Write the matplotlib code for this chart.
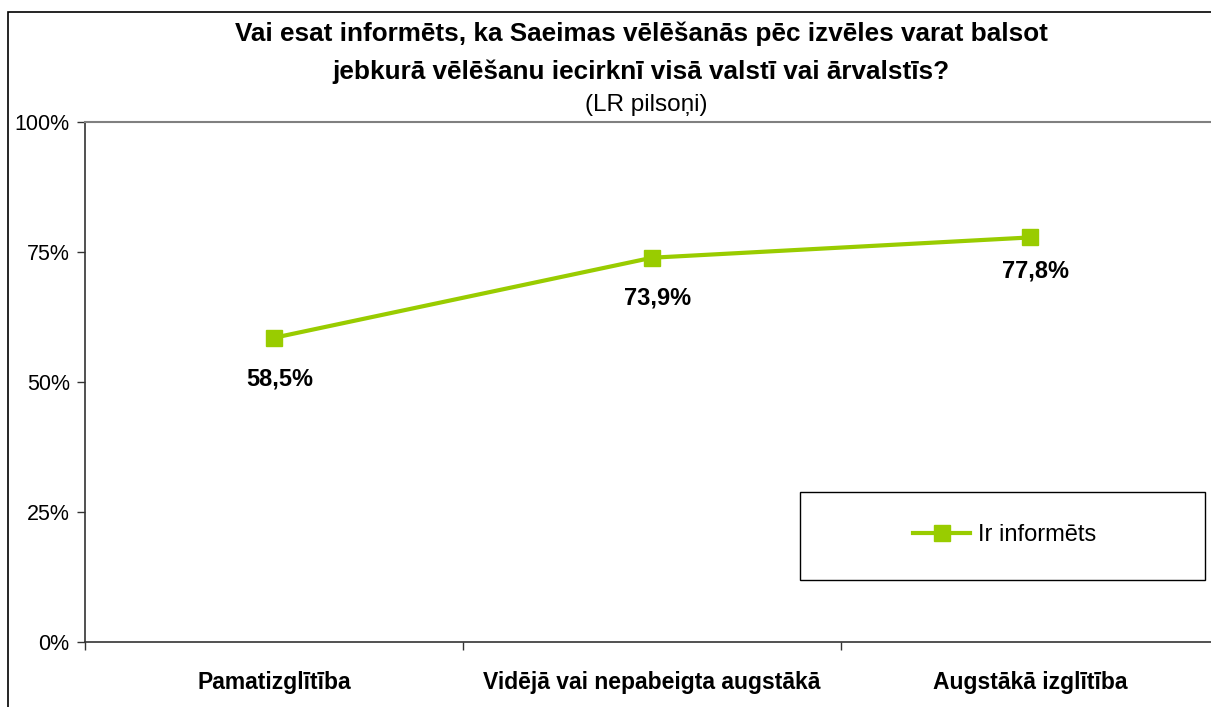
import matplotlib.pyplot as plt
from matplotlib.patches import Rectangle
from matplotlib.ticker import FixedLocator, NullFormatter

plt.rcParams['font.family'] = ['Liberation Sans', 'DejaVu Sans']

categories = ["Pamatizglītība", "Vidējā vai nepabeigta augstākā", "Augstākā izglītība"]
values = [58.5, 73.9, 77.8]
labels = ["58,5%", "73,9%", "77,8%"]
series_name = "Ir informēts"
yticks = [0, 25, 50, 75, 100]

W, H = 1211, 707
fig = plt.figure(figsize=(W / 100, H / 100), dpi=100)

# plot area in pixels: left 85, top 122, bottom 642, right 1219 (past the edge)
ax = fig.add_axes([85 / W, (H - 642) / H, (1219 - 85) / W, (642 - 122) / H])

x = range(len(categories))
ax.plot(x, values, color="#99CC00", lw=3, marker="s", ms=11.5, mec="#99CC00",
        mfc="#99CC00", label=series_name, clip_on=False, zorder=3)

# label offsets below the points (points)
dy = [-34, -34, -28.5]
for xi, v, t, d in zip(x, values, labels, dy):
    ax.annotate(t, (xi, v), xytext=(4, d), textcoords="offset points",
                ha="center", va="baseline", fontsize=17, fontweight="bold")

ax.set_xlim(-0.5, 2.5)
ax.set_ylim(0, 100)
ax.set_yticks(yticks)
ax.set_yticklabels([f"{t}%" for t in yticks], fontsize=15.5)

ax.xaxis.set_major_locator(FixedLocator([-0.5, 0.5, 1.5, 2.5]))
ax.xaxis.set_major_formatter(NullFormatter())
ax.xaxis.set_minor_locator(FixedLocator(list(x)))
ax.set_xticklabels(categories, minor=True, fontsize=16.5, fontweight="bold")
ax.tick_params(axis="x", which="major", length=6, width=1, color="#333333", direction="out")
ax.tick_params(axis="x", which="minor", length=0, pad=21)
ax.tick_params(axis="y", length=6, width=1, color="#333333", pad=5)

ax.spines["right"].set_visible(False)
ax.spines["top"].set_color("#808080")
ax.spines["top"].set_linewidth(1.5)
for s in ("left", "bottom"):
    ax.spines[s].set_color("#333333")
    ax.spines[s].set_linewidth(1.2)

# legend box with centered content
fig.patches.append(Rectangle((800 / W, (H - 580) / H), (1205 - 800) / W, (580 - 492) / H,
                             transform=fig.transFigure, fill=False, edgecolor="black", lw=1))
leg = ax.legend(loc="center", bbox_to_anchor=(1005 / W, (H - 535) / H),
                bbox_transform=fig.transFigure, fontsize=17, frameon=False,
                handlelength=2.4, handletextpad=0.35, borderpad=0)

fig.text(641 / W, 1 - 34 / H, "Vai esat informēts, ka Saeimas vēlēšanās pēc izvēles varat balsot",
         ha="center", va="center", fontsize=18.8, fontweight="bold")
fig.text(641 / W, 1 - 72 / H, "jebkurā vēlēšanu iecirknī visā valstī vai ārvalstīs?",
         ha="center", va="center", fontsize=18.8, fontweight="bold")
fig.text(646 / W, 1 - 105 / H, "(LR pilsoņi)", ha="center", va="center", fontsize=17.5)

# outer chart frame
fig.patches.append(Rectangle((8 / W, -0.1), 1.2, 1.1 - 12 / H, transform=fig.transFigure,
                             fill=False, edgecolor="black", lw=1.2))

fig.savefig("out.png", dpi=100)
